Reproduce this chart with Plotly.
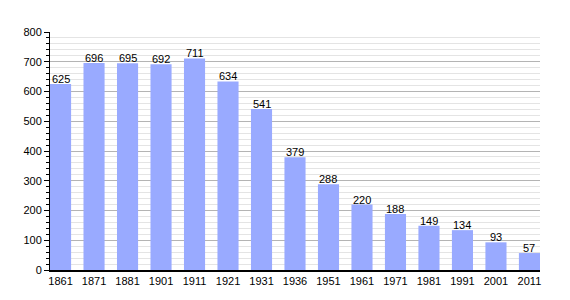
import plotly.graph_objects as go

years = ["1861", "1871", "1881", "1901", "1911", "1921", "1931", "1936",
         "1951", "1961", "1971", "1981", "1991", "2001", "2011"]
population = [625, 696, 695, 692, 711, 634, 541, 379, 288, 220, 188, 149, 134, 93, 57]

fig = go.Figure(go.Bar(
    x=years, y=population,
    marker=dict(color="#99aaff", line=dict(width=0)),
    width=0.63,
    hoverinfo="x+y",
))

for i, v in enumerate(population):
    fig.add_annotation(
        x=i, y=v, text=str(v), showarrow=False,
        xref="x", yref="y",
        yanchor="bottom", yshift=-3,
        font=dict(family="Liberation Sans, Arial", size=11, color="black"),
    )

fig.update_layout(
    width=570, height=300,
    margin=dict(l=50, r=30, t=32, b=30),
    paper_bgcolor="white", plot_bgcolor="white",
    font=dict(family="Liberation Sans, Arial", size=11, color="black"),
    showlegend=False,
    xaxis=dict(
        type="category", range=[-0.315, 14.315],
        showline=True, linecolor="black", linewidth=1.5,
        ticks="", showgrid=False, tickfont=dict(size=11),
    ),
    yaxis=dict(
        range=[0, 800], dtick=100,
        showline=True, linecolor="black", linewidth=1,
        ticks="outside", ticklen=5, tickcolor="black",
        gridcolor="#b4b4b4", gridwidth=1,
        minor=dict(dtick=20, showgrid=True, gridcolor="#e4e4e4", gridwidth=1,
                   ticks="outside", ticklen=3, tickcolor="black"),
        zeroline=False, tickfont=dict(size=11),
    ),
)

fig.write_html("out.html")
